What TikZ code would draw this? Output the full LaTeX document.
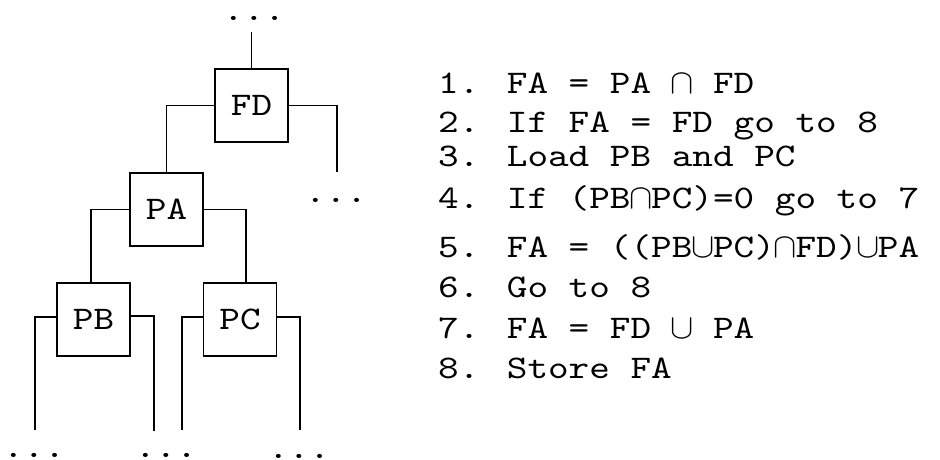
\documentclass[tikz,border=0pt]{standalone}
\usepackage{fontspec}
\usepackage{graphicx}
\usetikzlibrary{calc}
\newfontfamily\monof[FakeStretch=1.19]{lmmono10-regular.otf}
\newcommand\cpx{\makebox[20.6pt]{\scalebox{1.4}{$\cap$}}}
\newcommand\cux{\makebox[20.6pt]{\scalebox{1.4}{$\cup$}}}
\begin{document}
\begin{tikzpicture}[x=1pt,y=-1pt,
  every node/.style={font=\monof\fontsize{33}{40}\selectfont},
  blk/.style={draw,line width=1.3pt,minimum width=73pt,minimum height=73pt,inner sep=0pt},
  wire/.style={line width=1.3pt},
  dots/.style={anchor=base,inner sep=0pt},
  txt/.style={anchor=base west,inner sep=0pt}]
\useasboundingbox (0,0) rectangle (940,459);
% boxes
\node[blk] (FD) at (251.5,105.5) {FD};
\node[blk] (PA) at (166.5,209.5) {PA};
\node[blk] (PB) at (93.5,319.5) {PB};
\node[blk] (PC) at (240,319.5) {PC};
% dots
\node[dots] (d0) at (254,20) {...};
\node[dots] (d1) at (336,202) {...};
\node[dots] (d2) at (34,457) {...};
\node[dots] (d3) at (166,457) {...};
\node[dots] (d4) at (299,458) {...};
% free ends
\coordinate (t0) at (251.5,32);
\coordinate (r1) at (337,172);
\coordinate (b1) at (35,430);
\coordinate (b2) at (154,431);
\coordinate (b3) at (182,430);
\coordinate (b4) at (300,430);
% connectors
\draw[wire] (FD.north) -- (t0);
\draw[wire] (FD.west) -| (PA.north);
\draw[wire] (FD.east) -| (r1);
\draw[wire] (PA.west) -| ($(PB.north)+(-2.5,0)$);
\draw[wire] (PA.east) -| ($(PC.north)+(6,0)$);
\draw[wire] ($(PB.west)+(0,-2.5)$) -| (b1);
\draw[wire] ($(PB.east)+(0,-3.5)$) -| (b2);
\draw[wire] ($(PC.west)+(0,-2.5)$) -| (b3);
\draw[wire] ($(PC.east)+(0,-2.5)$) -| (b4);
% algorithm
\node[txt] (l1) at (438,93) {1. FA = PA \cpx{} FD};
\node[txt] (l2) at (438,132) {2. If FA = FD go to 8};
\node[txt] (l3) at (438,166) {3. Load PB and PC};
\node[txt] (l4) at (438,208) {4. If (PB\cpx{}PC)=0 go to 7};
\node[txt] (l5) at (438,257) {5. FA = ((PB\cux{}PC)\cpx{}FD)\cux{}PA};
\node[txt] (l6) at (438,297) {6. Go to 8};
\node[txt] (l7) at (438,338) {7. FA = FD \cux{} PA};
\node[txt] (l8) at (438,378) {8. Store FA};
\end{tikzpicture}
\end{document}
